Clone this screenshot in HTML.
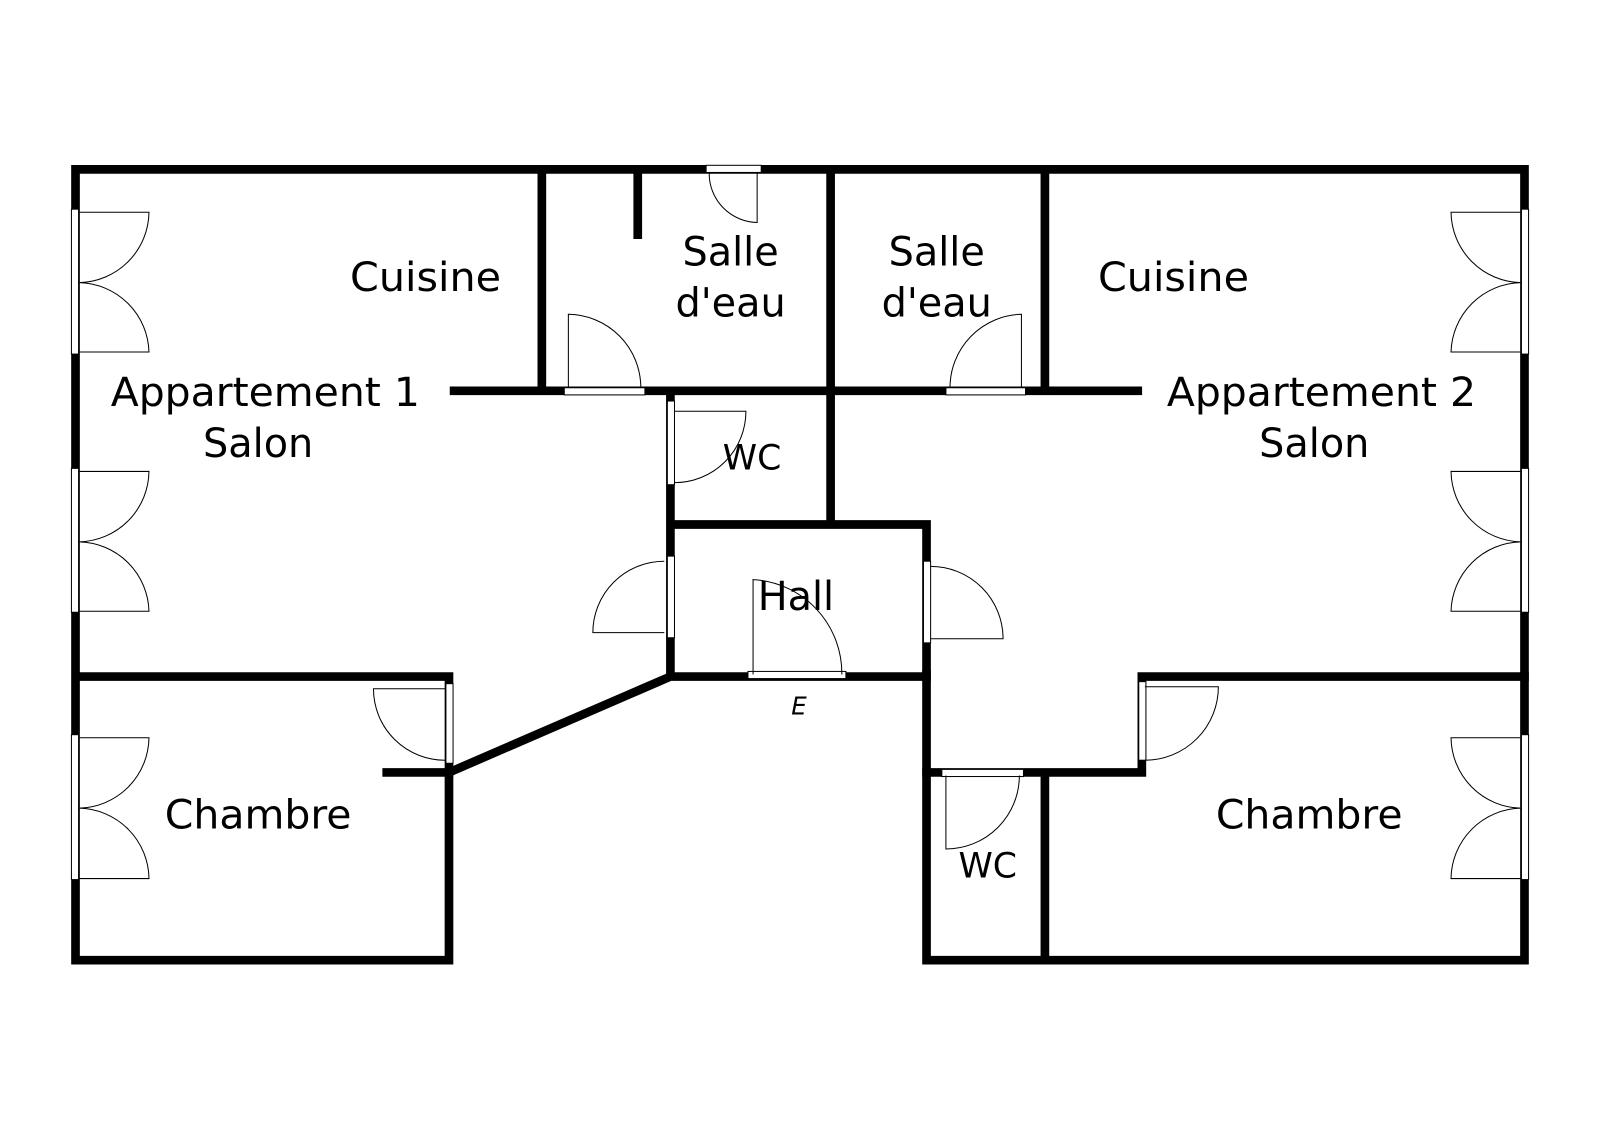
<!DOCTYPE html>
<html><head><meta charset="utf-8"><style>html,body{margin:0;padding:0;background:#fff}svg{display:block}</style></head>
<body>
<svg width="1600" height="1130" viewBox="0 0 1568 1107.4" xmlns="http://www.w3.org/2000/svg">
<rect width="1568" height="1108" fill="#fff"/>
<g stroke="#000" stroke-width="8.5" stroke-linecap="square" fill="none">
<path d="M74 166H1494V941H908V661M74 166V941H440V663H74"/>
<path d="M440 757L657 663H908M379 757H440M657 385V663H908V514H657M814 166V514M531 166V383M625 166V230M1024 166V383M445 383H1115M1119 663H1494M1119 663V757H908M1024 757V941"/>
</g>
<g fill="#fff" stroke="#000" stroke-width="1">
<rect x="70" y="205" width="7" height="142"/><rect x="70" y="459" width="7" height="141"/><rect x="70" y="720" width="7" height="142"/>
<rect x="1491" y="205" width="7" height="142"/><rect x="1491" y="459" width="7" height="141"/><rect x="1491" y="720" width="7" height="142"/>
<rect x="692" y="162" width="54" height="7"/>
<rect x="553" y="380" width="79" height="7"/><rect x="927" y="380" width="78" height="7"/>
<rect x="654" y="393" width="7" height="82"/><rect x="654" y="545" width="7" height="80"/>
<rect x="905" y="550" width="7" height="80"/><rect x="733" y="658" width="96" height="7"/>
<rect x="437" y="670" width="7" height="78"/><rect x="1116" y="668" width="7" height="77"/>
<rect x="923" y="754" width="80" height="7"/>
</g>
<g fill="none" stroke="#000" stroke-width="1">
<path d="M78 208H146A70 70 0 0 1 78 277A70 70 0 0 1 146 345H78"/>
<path d="M78 462H146A70 70 0 0 1 78 531A70 70 0 0 1 146 599H78"/>
<path d="M78 723H146A70 70 0 0 1 78 792A70 70 0 0 1 146 861H78"/>
<path d="M1490 208H1422A70 70 0 0 0 1490 277A70 70 0 0 0 1422 345H1490"/>
<path d="M1490 462H1422A70 70 0 0 0 1490 531A70 70 0 0 0 1422 599H1490"/>
<path d="M1490 723H1422A70 70 0 0 0 1490 792A70 70 0 0 0 1422 861H1490"/>
<path d="M742 169V218A48 48 0 0 1 695 170"/>
<path d="M557 380V308A72 72 0 0 1 628 380"/>
<path d="M1001 380V308A72 72 0 0 0 931 380"/>
<path d="M661 403H731A70 70 0 0 1 661 473"/>
<path d="M651 550A70 70 0 0 0 581 620H651"/>
<path d="M912 555A71 71 0 0 1 983 626H912"/>
<path d="M738 661V568A92 92 0 0 1 825 661"/>
<path d="M437 675H366A70 70 0 0 0 437 745"/>
<path d="M1122 673H1194A72 72 0 0 1 1122 745"/>
<path d="M927 760V832A72 72 0 0 0 999 760"/>
</g>
<g font-family="'DejaVu Sans','Liberation Sans',sans-serif" font-size="39" text-anchor="middle" fill="#000">
<text x="417" y="285" textLength="148" lengthAdjust="spacingAndGlyphs">Cuisine</text>
<text x="716" y="260">Salle</text><text x="716" y="310">d'eau</text>
<text x="918" y="260">Salle</text><text x="918" y="310">d'eau</text>
<text x="1150" y="285" textLength="148" lengthAdjust="spacingAndGlyphs">Cuisine</text>
<text x="260" y="398" textLength="303" lengthAdjust="spacingAndGlyphs">Appartement 1</text><text x="253" y="448">Salon</text>
<text x="1295" y="398" textLength="303" lengthAdjust="spacingAndGlyphs">Appartement 2</text><text x="1288" y="448">Salon</text>
<text x="737" y="460" font-size="34">WC</text>
<text x="780" y="598">Hall</text>
<text x="253" y="812" textLength="183" lengthAdjust="spacingAndGlyphs">Chambre</text>
<text x="1283" y="812" textLength="183" lengthAdjust="spacingAndGlyphs">Chambre</text>
<text x="968" y="860" font-size="34">WC</text>
<text x="783" y="700" font-size="24" font-style="italic">E</text>
</g>
</svg>
</body></html>
